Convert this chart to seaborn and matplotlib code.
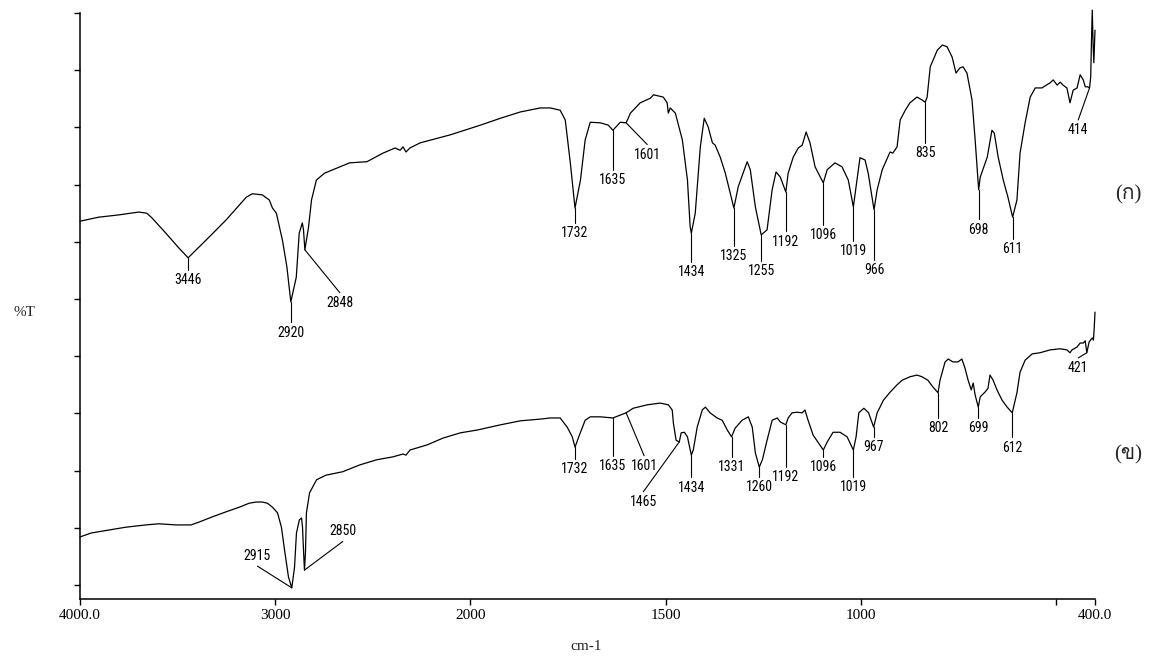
import numpy as np
import pandas as pd
import seaborn as sns
import matplotlib
matplotlib.use("Agg")
import matplotlib.pyplot as plt
from matplotlib import font_manager
from matplotlib.ft2font import FT2Font

# spectrum (ก): wavenumber (cm-1) and %T in tick units
top_wn = [4000, 3905, 3802, 3699, 3658, 3632, 3560, 3493, 3446, 3354, 3252, 3148, 3117, 3066,
          3030, 3014, 2994, 2963, 2940, 2920, 2892, 2877, 2861, 2855, 2848, 2829, 2814, 2789,
          2747, 2619, 2530, 2448, 2386, 2360, 2345, 2330, 2310, 2257, 2103, 1974, 1923, 1872,
          1821, 1795, 1770, 1757, 1744, 1732, 1718, 1706, 1693, 1667, 1647, 1635, 1616, 1601,
          1590, 1565, 1539, 1531, 1506, 1496, 1493, 1488, 1475, 1457, 1444, 1437, 1434, 1424,
          1411, 1401, 1391, 1380, 1373, 1360, 1347, 1325, 1314, 1291, 1283, 1270, 1255, 1240,
          1227, 1217, 1206, 1192, 1186, 1173, 1160, 1150, 1140, 1130, 1117, 1096, 1086, 1066,
          1048, 1032, 1019, 1012, 1002, 989, 981, 966, 958, 945, 925, 918, 907, 899, 886, 874,
          856, 843, 835, 830, 822, 804, 791, 779, 766, 756, 746, 738, 728, 715, 707, 698, 694,
          676, 664, 658, 648, 635, 623, 611, 600, 592, 579, 566, 553, 536, 515, 507, 497, 489,
          482, 472, 464, 456, 446, 438, 430, 425, 419, 414, 411, 409, 407, 405, 403, 400]
top_t = [6.36, 6.43, 6.47, 6.52, 6.50, 6.42, 6.15, 5.89, 5.72, 6.03, 6.38, 6.78, 6.84, 6.82,
         6.73, 6.59, 6.50, 6.03, 5.56, 4.95, 5.38, 6.15, 6.33, 6.21, 5.86, 6.26, 6.73, 7.08,
         7.20, 7.38, 7.40, 7.55, 7.64, 7.60, 7.66, 7.57, 7.64, 7.73, 7.87, 8.04, 8.16, 8.27,
         8.34, 8.34, 8.30, 8.13, 7.38, 6.59, 7.08, 7.78, 8.09, 8.08, 8.04, 7.95, 8.09, 8.08,
         8.25, 8.43, 8.51, 8.57, 8.53, 8.43, 8.25, 8.34, 8.25, 7.78, 7.08, 6.26, 6.15, 6.50,
         7.66, 8.16, 8.01, 7.73, 7.69, 7.48, 7.20, 6.59, 6.96, 7.40, 7.26, 6.61, 6.12, 6.21,
         6.91, 7.22, 7.13, 6.87, 7.20, 7.48, 7.64, 7.69, 7.92, 7.73, 7.31, 7.03, 7.26, 7.38,
         7.31, 7.08, 6.61, 6.96, 7.47, 7.43, 7.20, 6.56, 6.91, 7.26, 7.57, 7.55, 7.66, 8.13,
         8.30, 8.43, 8.53, 8.48, 8.44, 8.53, 9.06, 9.35, 9.44, 9.41, 9.23, 8.95, 9.04, 9.06,
         8.95, 8.48, 7.78, 6.91, 7.13, 7.48, 7.95, 7.90, 7.48, 7.08, 6.78, 6.43, 6.73, 7.55,
         8.08, 8.53, 8.69, 8.69, 8.78, 8.83, 8.74, 8.79, 8.74, 8.69, 8.43, 8.65, 8.69, 8.92,
         8.83, 8.71, 8.71, 8.69, 8.88, 9.53, 10.05, 9.48, 9.13, 9.70]

# spectrum (ข)
bot_wn = [4000, 3941, 3853, 3766, 3663, 3596, 3508, 3431, 3390, 3323, 3251, 3184, 3133, 3097,
          3066, 3040, 3014, 2988, 2968, 2952, 2932, 2915, 2901, 2891, 2876, 2865, 2860, 2855,
          2850, 2845, 2840, 2824, 2788, 2740, 2654, 2566, 2479, 2397, 2345, 2330, 2309, 2221,
          2139, 2051, 1982, 1923, 1872, 1821, 1795, 1770, 1752, 1739, 1732, 1718, 1706, 1693,
          1667, 1635, 1601, 1583, 1547, 1514, 1493, 1483, 1480, 1473, 1465, 1460, 1452, 1444,
          1434, 1429, 1419, 1406, 1398, 1386, 1368, 1355, 1342, 1331, 1322, 1304, 1288, 1278,
          1270, 1260, 1252, 1240, 1227, 1214, 1206, 1192, 1186, 1176, 1163, 1150, 1143, 1135,
          1122, 1096, 1086, 1071, 1053, 1035, 1019, 1012, 1005, 992, 980, 967, 958, 942, 925,
          907, 894, 874, 856, 843, 828, 815, 802, 797, 784, 776, 764, 751, 741, 733, 725, 717,
          712, 707, 699, 694, 682, 674, 669, 661, 651, 638, 625, 612, 600, 592, 579, 561, 541,
          515, 489, 472, 464, 459, 446, 438, 430, 425, 421, 415, 407, 404, 402, 400]
bot_t = [0.84, 0.91, 0.96, 1.01, 1.05, 1.07, 1.05, 1.05, 1.10, 1.19, 1.28, 1.36, 1.43, 1.45,
         1.45, 1.43, 1.36, 1.26, 1.01, 0.61, 0.14, -0.05, 0.31, 0.91, 1.14, 1.17, 1.01, 0.61,
         0.26, 0.56, 1.26, 1.61, 1.84, 1.92, 1.98, 2.10, 2.19, 2.24, 2.29, 2.27, 2.36, 2.45,
         2.57, 2.66, 2.71, 2.80, 2.87, 2.90, 2.92, 2.92, 2.76, 2.59, 2.41, 2.67, 2.88, 2.94,
         2.94, 2.92, 3.01, 3.09, 3.15, 3.18, 3.15, 3.06, 2.83, 2.53, 2.50, 2.66, 2.67, 2.59,
         2.27, 2.36, 2.76, 3.06, 3.11, 3.01, 2.92, 2.88, 2.71, 2.59, 2.74, 2.88, 2.94, 2.76,
         2.31, 2.06, 2.19, 2.53, 2.88, 2.92, 2.85, 2.80, 2.92, 3.01, 3.02, 3.01, 3.06, 2.88,
         2.62, 2.36, 2.50, 2.67, 2.67, 2.59, 2.36, 2.59, 3.01, 3.09, 3.01, 2.76, 3.01, 3.23,
         3.37, 3.50, 3.58, 3.64, 3.67, 3.64, 3.58, 3.46, 3.36, 3.58, 3.90, 3.95, 3.90, 3.90,
         3.95, 3.79, 3.58, 3.41, 3.53, 3.32, 3.11, 3.29, 3.37, 3.44, 3.67, 3.58, 3.41, 3.23,
         3.11, 3.01, 3.36, 3.72, 3.93, 4.04, 4.06, 4.11, 4.13, 4.11, 4.06, 4.11, 4.16, 4.23,
         4.23, 4.27, 4.06, 4.25, 4.32, 4.28, 4.49, 4.77]

# peak labels
top_peaks = [3446, 2920, 2848, 1732, 1635, 1601, 1434, 1325, 1255, 1192, 1096, 1019, 966,
             835, 698, 611, 414]
bot_peaks = [2915, 2850, 1732, 1635, 1601, 1465, 1434, 1331, 1260, 1192, 1096, 1019, 967,
             802, 699, 612, 421]

xtick_vals = [4000, 3000, 2000, 1500, 1000, 500, 400]
xtick_text = ["4000.0", "3000", "2000", "1500", "1000", "", "400.0"]

# where each peak label sits (wavenumber, %T of text centre)
top_label_pos = [(3446, 5.33), (2920, 4.41), (2669, 4.93), (1732, 6.15), (1635, 7.08),
                 (1547, 7.52), (1434, 5.47), (1325, 5.75), (1255, 5.49), (1192, 6.00),
                 (1096, 6.12), (1019, 5.84), (966, 5.51), (835, 7.55), (698, 6.21),
                 (611, 5.87), (443, 7.95)]
bot_label_pos = [(3091, 0.51), (2654, 0.94), (1732, 2.03), (1635, 2.08), (1555, 2.08),
                 (1557, 1.45), (1434, 1.70), (1331, 2.06), (1260, 1.71), (1192, 1.89),
                 (1096, 2.06), (1019, 1.71), (967, 2.41), (802, 2.74), (699, 2.74),
                 (612, 2.40), (443, 3.79)]


def thai_family():
    # find an installed font that has Thai glyphs
    for f in font_manager.fontManager.ttflist:
        try:
            if 0x0E01 in FT2Font(f.fname).get_charmap():
                return f.name
        except Exception:
            pass
    return "DejaVu Sans"


def narrow_font():
    # peak numbers in the scan use a tall narrow face
    fonts = font_manager.fontManager.ttflist
    names = {f.name for f in fonts}
    for n in ["Liberation Sans Narrow", "Roboto Condensed", "Open Sans Condensed"]:
        if n in names:
            return dict(family=n, fontsize=10)
    if any(f.name == "DejaVu Sans" and f.stretch == "condensed" for f in fonts):
        return dict(family="DejaVu Sans", fontstretch="condensed", fontsize=9.5)
    return dict(family="Roboto", fontsize=9)


def forward(x):
    x = np.asarray(x, dtype=float)
    return np.where(x >= 2000, x, 2 * x - 2000)


def inverse(y):
    y = np.asarray(y, dtype=float)
    return np.where(y >= 2000, y, (y + 2000) / 2)


sns.set_style("ticks")
plt.rcParams["font.family"] = ["Liberation Serif", "DejaVu Serif"]
peak_font = narrow_font()
thai = thai_family()

df = pd.concat([
    pd.DataFrame({"wn": top_wn, "T": top_t, "sample": "a"}),
    pd.DataFrame({"wn": bot_wn, "T": bot_t, "sample": "b"}),
])

fig = plt.figure(figsize=(11.59, 6.56), dpi=100)
ax = fig.add_axes([80 / 1159, 57 / 656, 1015 / 1159, 586 / 656])
sns.lineplot(data=df, x="wn", y="T", units="sample", estimator=None, sort=False,
             color="black", lw=0.9, ax=ax, legend=False)
for line in ax.get_lines():
    line.set_clip_on(False)

ax.set_xscale("function", functions=(forward, inverse))
ax.set_xlim(4000, 400)
ax.set_ylim(-0.245, 10.0)
ax.set_xticks(xtick_vals)
ax.set_xticklabels(xtick_text)
ax.set_yticks(range(0, 11))
ax.set_yticklabels([])
ax.set_xlabel("")
ax.set_ylabel("")
ax.tick_params(direction="out", length=4, width=1, labelsize=11, pad=3, colors="black")
sns.despine(ax=ax)
for s in ["left", "bottom"]:
    ax.spines[s].set_linewidth(1.1)
    ax.spines[s].set_color("black")


def label_peaks(peaks, wn, t, positions):
    xs = np.array(wn[::-1], dtype=float)
    ys = np.array(t[::-1], dtype=float)
    for p, (lx, ly) in zip(peaks, positions):
        tip = np.interp(p, xs, ys)
        end = ly + 0.18 if ly < tip else ly - 0.18
        ax.plot([p, lx], [tip, end], color="black", lw=0.8)
        ax.text(lx, ly, str(p), ha="center", va="center", color="black", **peak_font)


label_peaks(top_peaks, top_wn, top_t, top_label_pos)
label_peaks(bot_peaks, bot_wn, bot_t, bot_label_pos)

fig.text(24 / 1159, 1 - 312 / 656, "%T", ha="center", va="center", fontsize=11)
fig.text(586 / 1159, 1 - 647 / 656, "cm-1", ha="center", va="center", fontsize=11)
fig.text(1128 / 1159, 1 - 195 / 656, "(ก)", ha="center", va="center", fontsize=15,
         family=["Liberation Serif", thai])
fig.text(1128 / 1159, 1 - 455 / 656, "(ข)", ha="center", va="center", fontsize=15,
         family=["Liberation Serif", thai])

fig.savefig("out.png", dpi=100, facecolor="white")
